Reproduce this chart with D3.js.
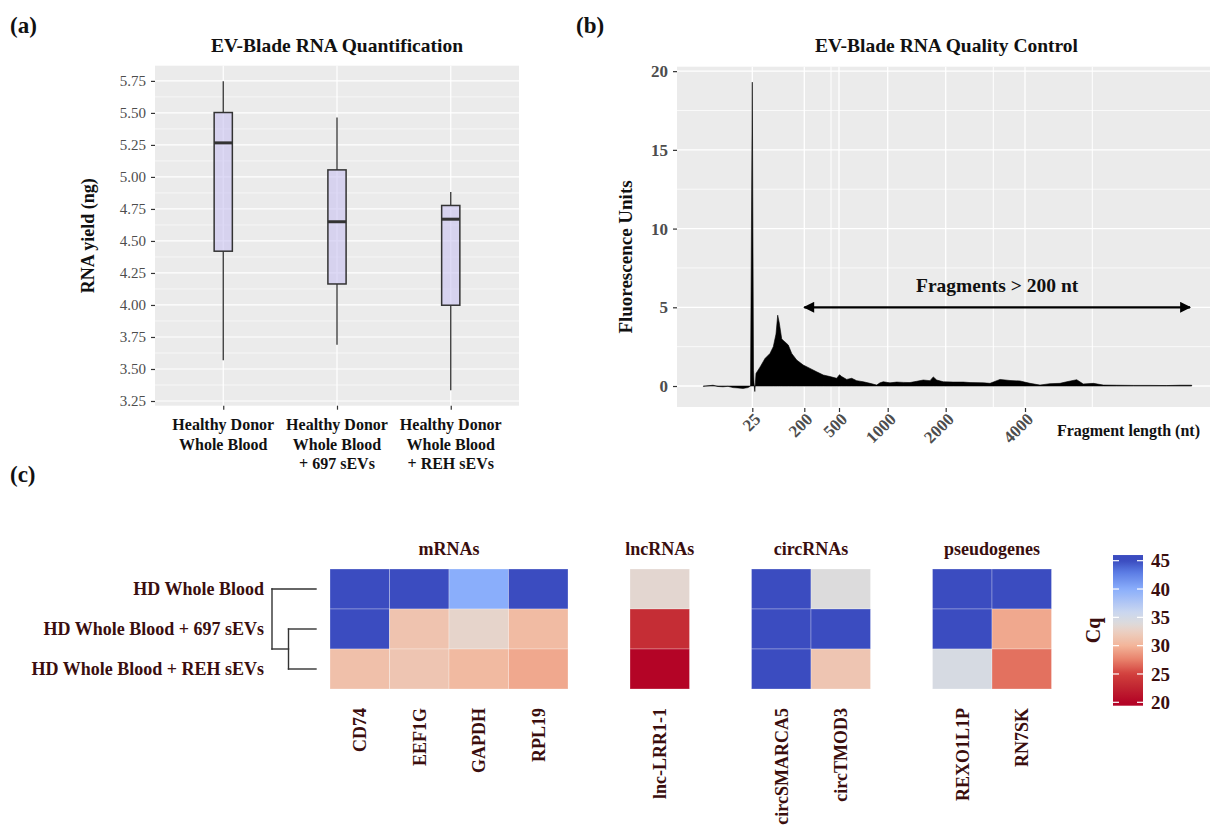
<!DOCTYPE html>
<html><head><meta charset="utf-8">
<script src="https://cdn.jsdelivr.net/npm/d3@7"></script>
<style>body{margin:0;background:#fff}svg{display:block}</style>
</head><body>
<svg id="c" width="1210" height="838"></svg>
<script>
// ---------------- DATA ----------------
// Panel (a): RNA yield box plots
const groupsA = ["Healthy Donor|Whole Blood", "Healthy Donor|Whole Blood|+ 697 sEVs", "Healthy Donor|Whole Blood|+ REH sEVs"];
const whiskerMin = [3.568, 3.69, 3.334];
const q1 = [4.42, 4.164, 3.998];
const medians = [5.266, 4.65, 4.67];
const q3 = [5.503, 5.055, 4.777];
const whiskerMax = [5.748, 5.464, 4.883];
const yTicksA = [3.25, 3.5, 3.75, 4.0, 4.25, 4.5, 4.75, 5.0, 5.25, 5.5, 5.75];

// Panel (b): electropherogram (migration time in s, fluorescence units)
const traceTime = [20.63, 21.6, 22.1, 22.6, 23.1, 23.6, 24.1, 24.6, 25.1, 25.35, 25.53, 25.65, 25.7, 25.78, 25.9, 26.3, 26.8, 27.3, 27.63, 27.9, 28.07, 28.23, 28.47, 28.6, 28.8, 29.13, 29.47, 29.97, 30.63, 31.3, 31.97, 32.63, 33.3, 33.97, 34.25, 34.47, 34.97, 35.47, 35.97, 36.63, 37.3, 37.97, 38.3, 38.63, 39.3, 39.97, 40.63, 41.3, 41.97, 42.63, 43.3, 43.63, 43.97, 44.63, 45.63, 46.63, 47.3, 48.63, 49.3, 50.3, 51.3, 52.3, 53.3, 54.3, 55.3, 56.3, 56.97, 57.97, 58.63, 59.63, 60.63, 61.97, 63.63, 65.3, 66.97, 68.3, 69.47];
const traceFU = [-0.02, 0.05, -0.03, -0.05, -0.02, -0.1, -0.12, -0.15, -0.1, 0, 19.3, 1.0, 0.2, -0.35, 0.8, 1.2, 1.75, 2.07, 2.5, 3.3, 4.5, 4.0, 3.0, 2.9, 2.8, 2.6, 2.07, 1.65, 1.33, 1.12, 0.9, 0.7, 0.6, 0.49, 0.72, 0.6, 0.42, 0.49, 0.34, 0.27, 0.17, 0.06, 0.2, 0.27, 0.2, 0.25, 0.23, 0.22, 0.3, 0.38, 0.34, 0.58, 0.38, 0.27, 0.25, 0.25, 0.22, 0.2, 0.17, 0.42, 0.35, 0.32, 0.17, 0.06, 0.15, 0.17, 0.27, 0.4, 0.13, 0.17, 0.06, 0.05, 0.04, 0.04, 0.03, 0.05, 0.05];
const timeDomainB = [18, 71.9];
const lengthLabels = ["25", "200", "500", "1000", "2000", "4000"];
const lengthTimes = [25.53, 30.73, 34.2, 39.07, 44.87, 52.8];
const minorTimes = [33.4, 49.63, 59.53];
const fuTicks = [0, 5, 10, 15, 20];
const fuMinor = [2.5, 7.5, 12.5, 17.5];
const arrowTimes = [30.73, 69.3];
const arrowFU = 5;

// Panel (c): Cq heatmap
const samples = ["HD Whole Blood", "HD Whole Blood + 697 sEVs", "HD Whole Blood + REH sEVs"];
const rnaGroups = ["mRNAs", "lncRNAs", "circRNAs", "pseudogenes"];
const genes = ["CD74", "EEF1G", "GAPDH", "RPL19", "lnc-LRR1-1", "circSMARCA5", "circTMOD3", "REXO1L1P", "RN7SK"];
const geneGroup = ["mRNAs", "mRNAs", "mRNAs", "mRNAs", "lncRNAs", "circRNAs", "circRNAs", "pseudogenes", "pseudogenes"];
const cqWB = [45, 45, 40, 45, 33.3, 45, 34, 45, 45];
const cq697 = [45, 31.3, 33, 30.6, 23.3, 45, 45, 45, 29.4];
const cqREH = [31, 31.5, 30.5, 29.4, 19.8, 45, 31.5, 34.6, 26.9];
const cqTicks = [20, 25, 30, 35, 40, 45];
const cqLimits = [19.4, 46];
const cqStopValues = [20, 23, 25, 27.5, 30, 32.5, 34, 36, 40, 43, 45];
const cqStopColors = ["#B40426", "#C32A33", "#D2403D", "#E8806A", "#F3B599", "#EBD0C3", "#DCDBDC", "#C9D6F0", "#8AAEFB", "#5A7BE3", "#3B4CC0"];
const dendroHeights = [0.625, 1]; // merge of 697/REH, then root

// ---------------- DRAW ----------------
const svg = d3.select("#c");
const serif = "'Liberation Serif','Times New Roman',serif";
const ink = "#111";
const maroon = "#3A0E0E";
const tickGrey = "#4D4D4D";

function txt(g, x, y, s, size, opts = {}) {
  return g.append("text").attr("x", x).attr("y", y).text(s)
    .attr("font-family", serif).attr("font-size", size)
    .attr("font-weight", opts.weight || "bold")
    .attr("fill", opts.fill || ink)
    .attr("text-anchor", opts.anchor || "start");
}

txt(svg, 10, 33, "(a)", 23);
txt(svg, 576, 33, "(b)", 23);
txt(svg, 10, 482, "(c)", 23);

// ----- Panel (a) -----
const gA = svg.append("g");
const xA = d3.scaleLinear().domain([0.4, 3.6]).range([155, 519]);
const extA = d3.extent(whiskerMin.concat(whiskerMax));
const padA = (extA[1] - extA[0]) * 0.05;
const yA = d3.scaleLinear().domain([extA[0] - padA, extA[1] + padA]).range([405.7, 65.7]);

gA.append("rect").attr("x", xA.range()[0]).attr("y", yA.range()[1])
  .attr("width", xA.range()[1] - xA.range()[0]).attr("height", yA.range()[0] - yA.range()[1])
  .attr("fill", "#EBEBEB");
const minorA = yTicksA.slice(1).map((d, i) => (d + yTicksA[i]) / 2);
gA.selectAll(".mnA").data(minorA).join("line")
  .attr("x1", xA.range()[0]).attr("x2", xA.range()[1])
  .attr("y1", d => yA(d)).attr("y2", d => yA(d))
  .attr("stroke", "#fff").attr("stroke-width", 0.6);
gA.selectAll(".mjA").data(yTicksA).join("line")
  .attr("x1", xA.range()[0]).attr("x2", xA.range()[1])
  .attr("y1", d => yA(d)).attr("y2", d => yA(d))
  .attr("stroke", "#fff").attr("stroke-width", 1.2);
gA.selectAll(".vA").data(groupsA).join("line")
  .attr("x1", (d, i) => xA(i + 1)).attr("x2", (d, i) => xA(i + 1))
  .attr("y1", yA.range()[0]).attr("y2", yA.range()[1])
  .attr("stroke", "#fff").attr("stroke-width", 1.2);

const boxHalf = 0.08;
groupsA.forEach((g, i) => {
  const cx = xA(i + 1);
  gA.append("line").attr("x1", cx).attr("x2", cx).attr("y1", yA(q3[i])).attr("y2", yA(whiskerMax[i]))
    .attr("stroke", "#333").attr("stroke-width", 1.3);
  gA.append("line").attr("x1", cx).attr("x2", cx).attr("y1", yA(q1[i])).attr("y2", yA(whiskerMin[i]))
    .attr("stroke", "#333").attr("stroke-width", 1.3);
  gA.append("rect").attr("x", xA(i + 1 - boxHalf)).attr("width", xA(i + 1 + boxHalf) - xA(i + 1 - boxHalf))
    .attr("y", yA(q3[i])).attr("height", yA(q1[i]) - yA(q3[i]))
    .attr("fill", "#C8C2F0").attr("fill-opacity", 0.6)
    .attr("stroke", "#333").attr("stroke-width", 1.5);
  gA.append("line").attr("x1", xA(i + 1 - boxHalf)).attr("x2", xA(i + 1 + boxHalf))
    .attr("y1", yA(medians[i])).attr("y2", yA(medians[i]))
    .attr("stroke", "#333").attr("stroke-width", 3);
});

const axA = gA.append("g").attr("transform", `translate(${xA.range()[0]},0)`)
  .call(d3.axisLeft(yA).tickValues(yTicksA).tickFormat(d3.format(".2f")).tickSize(4).tickPadding(5));
axA.select(".domain").remove();
axA.selectAll("line").attr("stroke", "#333").attr("stroke-width", 1.2);
axA.selectAll("text").attr("font-family", serif).attr("font-size", 15).attr("fill", tickGrey);

const axAx = gA.append("g").attr("transform", `translate(0,${yA.range()[0]})`)
  .call(d3.axisBottom(xA).tickValues([1, 2, 3]).tickSize(4).tickFormat(""));
axAx.select(".domain").remove();
axAx.selectAll("line").attr("stroke", "#333").attr("stroke-width", 1.2);
groupsA.forEach((g, i) => {
  const t = gA.append("text").attr("font-family", serif).attr("font-size", 16).attr("font-weight", "bold")
    .attr("fill", ink).attr("text-anchor", "middle");
  g.split("|").forEach((ln, k) => {
    t.append("tspan").attr("x", xA(i + 1)).attr("y", 430 + k * 19.6).text(ln);
  });
});
txt(gA, (xA.range()[0] + xA.range()[1]) / 2, 52, "EV-Blade RNA Quantification", 19.5, { anchor: "middle" });
gA.append("text").attr("transform", `translate(94,${(yA.range()[0] + yA.range()[1]) / 2}) rotate(-90)`)
  .attr("text-anchor", "middle").attr("font-family", serif).attr("font-size", 18).attr("font-weight", "bold")
  .attr("fill", ink).text("RNA yield (ng)");

// ----- Panel (b) -----
const gB = svg.append("g");
const xB = d3.scaleLinear().domain(timeDomainB).range([677, 1216]);
const extB = d3.extent(traceFU);
const padB = (extB[1] - extB[0]) * 0.05;
const yB = d3.scaleLinear().domain([extB[0] - padB, extB[1] + padB]).range([407, 66.7]);

gB.append("rect").attr("x", xB.range()[0]).attr("y", yB.range()[1])
  .attr("width", xB.range()[1] - xB.range()[0]).attr("height", yB.range()[0] - yB.range()[1])
  .attr("fill", "#EBEBEB");
gB.selectAll(".mnB").data(fuMinor).join("line")
  .attr("x1", xB.range()[0]).attr("x2", xB.range()[1])
  .attr("y1", d => yB(d)).attr("y2", d => yB(d)).attr("stroke", "#fff").attr("stroke-width", 0.7);
gB.selectAll(".mjB").data(fuTicks).join("line")
  .attr("x1", xB.range()[0]).attr("x2", xB.range()[1])
  .attr("y1", d => yB(d)).attr("y2", d => yB(d)).attr("stroke", "#fff").attr("stroke-width", 1.3);
gB.selectAll(".mvB").data(minorTimes).join("line")
  .attr("x1", d => xB(d)).attr("x2", d => xB(d))
  .attr("y1", yB.range()[0]).attr("y2", yB.range()[1]).attr("stroke", "#fff").attr("stroke-width", 1.0);
gB.selectAll(".vB").data(lengthTimes).join("line")
  .attr("x1", d => xB(d)).attr("x2", d => xB(d))
  .attr("y1", yB.range()[0]).attr("y2", yB.range()[1]).attr("stroke", "#fff").attr("stroke-width", 1.3);

const trace = traceTime.map((t, i) => ({ t, v: traceFU[i] }));
gB.append("path").datum(trace)
  .attr("d", d3.area().x(d => xB(d.t)).y0(yB(0)).y1(d => yB(d.v)))
  .attr("fill", "#000").attr("stroke", "#000").attr("stroke-width", 0.6);

const defs = svg.append("defs");
defs.append("marker").attr("id", "ah").attr("viewBox", "0 0 10 10").attr("refX", 9).attr("refY", 5)
  .attr("markerWidth", 13).attr("markerHeight", 11).attr("markerUnits", "userSpaceOnUse")
  .attr("orient", "auto-start-reverse")
  .append("path").attr("d", "M0,0 L10,5 L0,10 Z").attr("fill", "#000");
gB.append("line").attr("x1", xB(arrowTimes[0])).attr("x2", xB(arrowTimes[1]))
  .attr("y1", yB(arrowFU)).attr("y2", yB(arrowFU))
  .attr("stroke", "#000").attr("stroke-width", 2.2)
  .attr("marker-start", "url(#ah)").attr("marker-end", "url(#ah)");
txt(gB, xB(d3.mean(arrowTimes)), yB(arrowFU + 1), "Fragments > 200 nt", 19.5, { anchor: "middle" });

const axB = gB.append("g").attr("transform", `translate(${xB.range()[0]},0)`)
  .call(d3.axisLeft(yB).tickValues(fuTicks).tickSize(4).tickPadding(5));
axB.select(".domain").remove();
axB.selectAll("line").attr("stroke", "#333").attr("stroke-width", 1.2);
axB.selectAll("text").attr("font-family", serif).attr("font-size", 17).attr("font-weight", "bold").attr("fill", tickGrey);

const axBx = gB.append("g").attr("transform", `translate(0,${yB.range()[0] + 1})`)
  .call(d3.axisBottom(xB).tickValues(lengthTimes).tickSize(4).tickFormat((d, i) => lengthLabels[i]));
axBx.select(".domain").remove();
axBx.selectAll("line").attr("stroke", "#333").attr("stroke-width", 1.2);
axBx.selectAll("text").attr("y", 0).attr("dy", "0.35em")
  .attr("transform", "translate(4.5,8) rotate(-45)").attr("text-anchor", "end")
  .attr("font-family", serif).attr("font-size", 17).attr("font-weight", "bold").attr("fill", tickGrey);

txt(gB, 946.5, 52, "EV-Blade RNA Quality Control", 19.5, { anchor: "middle" });
txt(gB, 1200, 436, "Fragment length (nt)", 16, { anchor: "end" });
gB.append("text").attr("transform", `translate(632,257) rotate(-90)`)
  .attr("text-anchor", "middle").attr("font-family", serif).attr("font-size", 19).attr("font-weight", "bold")
  .attr("fill", ink).text("Fluorescence Units");

// ----- Panel (c) -----
const gC = svg.append("g");
const color = d3.scaleLinear().domain(cqStopValues).range(cqStopColors).interpolate(d3.interpolateRgb).clamp(true);
const cellW = 59.5, groupGap = 62;
const colX = {};
const groupCenter = {};
let start = 330;
rnaGroups.forEach(gr => {
  const gg = genes.filter((g, i) => geneGroup[i] === gr);
  const band = d3.scaleBand().domain(gg).range([start, start + gg.length * cellW]);
  gg.forEach(g => colX[g] = band(g));
  groupCenter[gr] = start + gg.length * cellW / 2;
  start += gg.length * cellW + groupGap;
});
const yR = d3.scaleBand().domain(samples).range([569, 689]);
const rows = [cqWB, cq697, cqREH];
const cells = [];
samples.forEach((s, r) => genes.forEach((g, j) => cells.push({ s, g, v: rows[r][j] })));
gC.selectAll(".cell").data(cells).join("rect")
  .attr("x", d => colX[d.g]).attr("y", d => yR(d.s))
  .attr("width", cellW).attr("height", yR.bandwidth())
  .attr("fill", d => color(d.v))
  .attr("stroke", "rgba(255,255,255,0.35)").attr("stroke-width", 0.8);

rnaGroups.forEach(gr => txt(gC, groupCenter[gr], 555, gr, 18, { anchor: "middle", fill: maroon }));
samples.forEach(s => txt(gC, 264, yR(s) + yR.bandwidth() / 2, s, 18, { anchor: "end", fill: maroon }).attr("dy", "0.35em"));
genes.forEach(g => {
  gC.append("text").attr("transform", `translate(${colX[g] + cellW / 2},708) rotate(-90)`)
    .attr("dy", "0.35em").attr("text-anchor", "end")
    .attr("font-family", serif).attr("font-size", 18).attr("font-weight", "bold").attr("fill", maroon).text(g);
});

// dendrogram
const xD = d3.scaleLinear().domain([0, 1]).range([316, 272]);
const cy = samples.map(s => yR(s) + yR.bandwidth() / 2);
const h1 = dendroHeights[0], h2 = dendroHeights[1];
const mid23 = (cy[1] + cy[2]) / 2;
const segs = [
  [xD(0), cy[1], xD(h1), cy[1]], [xD(0), cy[2], xD(h1), cy[2]], [xD(h1), cy[1], xD(h1), cy[2]],
  [xD(0), cy[0], xD(h2), cy[0]], [xD(h1), mid23, xD(h2), mid23], [xD(h2), cy[0], xD(h2), mid23]
];
gC.selectAll(".dg").data(segs).join("line")
  .attr("x1", d => d[0]).attr("y1", d => d[1]).attr("x2", d => d[2]).attr("y2", d => d[3])
  .attr("stroke", "#333").attr("stroke-width", 1.4).attr("stroke-linecap", "square");

// legend
const yL = d3.scaleLinear().domain([45, 20]).range([560.7, 702.3]);
const grad = defs.append("linearGradient").attr("id", "cqg").attr("x1", 0).attr("x2", 0).attr("y1", 0).attr("y2", 1);
d3.range(0, 1.0001, 0.02).forEach(f => {
  const v = cqLimits[1] - f * (cqLimits[1] - cqLimits[0]);
  grad.append("stop").attr("offset", f).attr("stop-color", color(v));
});
gC.append("rect").attr("x", 1113).attr("width", 30).attr("y", yL(cqLimits[1])).attr("height", yL(cqLimits[0]) - yL(cqLimits[1]))
  .attr("fill", "url(#cqg)");
cqTicks.forEach(t => {
  gC.append("line").attr("x1", 1113).attr("x2", 1119).attr("y1", yL(t)).attr("y2", yL(t)).attr("stroke", "#fff").attr("stroke-width", 1.2);
  gC.append("line").attr("x1", 1137).attr("x2", 1143).attr("y1", yL(t)).attr("y2", yL(t)).attr("stroke", "#fff").attr("stroke-width", 1.2);
  txt(gC, 1151, yL(t), String(t), 19, { fill: maroon }).attr("dy", "0.35em");
});
gC.append("text").attr("transform", `translate(1100,${(yL(cqLimits[0]) + yL(cqLimits[1])) / 2}) rotate(-90)`)
  .attr("text-anchor", "middle").attr("font-family", serif).attr("font-size", 20).attr("font-weight", "bold")
  .attr("fill", maroon).text("Cq");
</script>
</body></html>
